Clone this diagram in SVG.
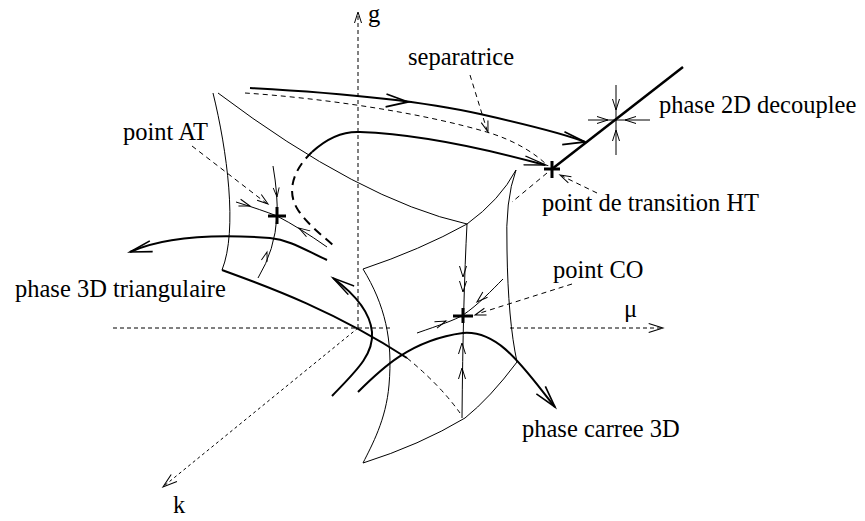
<svg xmlns="http://www.w3.org/2000/svg" xmlns:xlink="http://www.w3.org/1999/xlink" width="865" height="521" viewBox="0 0 865 521">
<style>
  .thin{fill:none;stroke:#000;stroke-width:1}
  .thick{fill:none;stroke:#000;stroke-width:2}
  .axis{fill:none;stroke:#000;stroke-width:1;stroke-dasharray:4 3}
  .axisk{fill:none;stroke:#000;stroke-width:1;stroke-dasharray:3 3}
  .dash{fill:none;stroke:#000;stroke-width:1;stroke-dasharray:5 4}
  .tdash{fill:none;stroke:#000;stroke-width:2;stroke-dasharray:9 6}
  .cross{fill:none;stroke:#000;stroke-width:3}
  text{font-family:"Liberation Serif","Times New Roman",serif;font-size:24.5px;fill:#000}
</style>
<defs>
  <path id="ah" d="M-11,-3.5 L0,0 L-11,3.5" fill="none" stroke="#000"/>
  <path id="AH" d="M-22,-6.5 L0,0 L-22,6.5" fill="none" stroke="#000"/>
</defs>
<rect width="865" height="521" fill="#fff"/>

<g id="axes">
  <path class="axis" d="M358,328 L358,14"/>
  <use href="#ah" transform="translate(358,12) rotate(-90)" stroke-width="1"/>
  <path class="axis" d="M113,328 L392,328 M510,328 L661,328"/>
  <use href="#ah" transform="translate(663,328) scale(1.3)" stroke-width="0.8"/>
  <path class="axisk" d="M358,328 L164,486"/>
  <use href="#ah" transform="translate(163,487) rotate(140.8) scale(1.3)" stroke-width="0.8"/>
</g>

<g id="surface-left">
  <path class="thin" d="M213,93 C227,150 238,230 222,270"/>
  <path class="thin" d="M218,93 Q360,200 467,224"/>
  <path class="thick" d="M222,270 C260,284 330,308 407,358"/>
  <path class="dash" d="M407,358 Q440,385 460,413"/>
</g>

<g id="surface-right">
  <path class="thin" d="M363,269 Q420,250 467,224"/>
  <path class="thin" d="M467,224 Q500,200 516,170"/>
  <path class="thin" d="M516,170 Q505,200 507,250 Q508,320 517,362"/>
  <path class="thin" d="M517,362 Q490,398 465,418 Q420,445 363,463"/>
  <path class="thin" d="M363,269 C385,305 393,340 389,385 C386,420 372,445 363,463"/>
  <path class="dash" d="M547,173 L512,202"/>
</g>

<g id="connectors">
  <path class="thick" d="M250,88 Q400,96 480,114 Q560,132 585,142"/>
  <use href="#AH" transform="translate(408,102) rotate(4)" stroke-width="1.8"/>
  <use href="#AH" transform="translate(585,142) rotate(10)" stroke-width="1.8"/>
  <path class="dash" d="M245,93 C320,98 420,112 490,133 C515,141 535,153 548,166"/>
  <path class="tdash" d="M312,152 C295,168 285,190 298,210 C308,225 322,235 335,247"/>
  <path class="thick" d="M312,152 C325,140 340,131 360,132 C420,134 490,150 545,165"/>
  <use href="#AH" transform="translate(546,165) rotate(12) scale(1,0.7)" stroke-width="1.8"/>
  <path fill="none" stroke="#000" stroke-width="2.5" d="M552,169 L683,67"/>
  <path class="thin" d="M616,85 L616,155 M588,120 L650,120"/>
  <use href="#ah" transform="translate(616,110) rotate(90)" stroke-width="1"/>
  <use href="#ah" transform="translate(616,130) rotate(-90)" stroke-width="1"/>
  <use href="#ah" transform="translate(608,120)" stroke-width="1"/>
  <use href="#ah" transform="translate(625,120) rotate(180)" stroke-width="1"/>
  <path class="thin" d="M273,166 Q278,195 277,216 Q275,250 258,278"/>
  <use href="#ah" transform="translate(277,197) rotate(85) scale(0.85)" stroke-width="1.1"/>
  <use href="#ah" transform="translate(267,252) rotate(-73) scale(0.85)" stroke-width="1.1"/>
  <path class="thin" d="M236,202 Q262,210 277,216 Q300,228 327,247"/>
  <use href="#ah" transform="translate(250,206) rotate(18)" stroke-width="1"/>
  <use href="#ah" transform="translate(299,228) rotate(212)" stroke-width="1"/>
  <path class="thick" d="M327,260 C305,250 290,240 270,238 C230,235 170,234 130,252"/>
  <use href="#AH" transform="translate(130,252) rotate(165) scale(1,0.85)" stroke-width="1.8"/>
  <path class="thick" d="M332,396 C355,372 374,355 372,332 C370,310 352,292 333,278"/>
  <use href="#AH" transform="translate(333,278) rotate(214) scale(1,0.8)" stroke-width="1.8"/>
  <path class="thick" d="M358,392 C380,370 410,340 463,333 C500,330 525,370 555,407"/>
  <use href="#AH" transform="translate(555,407) rotate(50) scale(1,0.9)" stroke-width="1.8"/>
  <path class="thin" d="M467,224 Q463,300 462,418"/>
  <use href="#ah" transform="translate(463,277) rotate(90)" stroke-width="1"/>
  <use href="#ah" transform="translate(463,292) rotate(90)" stroke-width="1"/>
  <use href="#ah" transform="translate(462,343) rotate(-90)" stroke-width="1"/>
  <use href="#ah" transform="translate(462,368) rotate(-90)" stroke-width="1"/>
  <path class="thin" d="M417,333 C440,325 455,320 463,315 C478,305 492,290 503,279"/>
  <use href="#ah" transform="translate(446,321) rotate(-21)" stroke-width="1"/>
  <use href="#ah" transform="translate(477,302) rotate(138)" stroke-width="1"/>
  <path class="dash" d="M470,75 L487,130"/>
  <use href="#ah" transform="translate(488,132) rotate(72)" stroke-width="1"/>
  <path class="dash" d="M597,193 L562,176"/>
  <use href="#ah" transform="translate(560,175) rotate(206)" stroke-width="1"/>
  <path class="dash" d="M572,284 L477,314"/>
  <use href="#ah" transform="translate(475,315) rotate(162)" stroke-width="1"/>
  <path class="dash" d="M192,146 L266,203"/>
  <use href="#ah" transform="translate(268,204) rotate(37)" stroke-width="1"/>
</g>

<g id="points">
  <path class="cross" d="M268,216 L286,216 M277,207 L277,224"/>
  <path class="cross" d="M544,169 L560,169 M552,161 L552,178"/>
  <path class="cross" d="M453,316 L473,316 M463,308 L463,323"/>
</g>

<g id="labels">
  <text x="368" y="22">g</text>
  <text x="624" y="317">μ</text>
  <text x="173" y="513">k</text>
  <text x="408" y="65">separatrice</text>
  <text x="659" y="113">phase 2D decouplee</text>
  <text x="542" y="211">point de transition HT</text>
  <text x="123" y="140">point AT</text>
  <text x="15" y="297">phase 3D triangulaire</text>
  <text x="553" y="278">point CO</text>
  <text x="522" y="437">phase carree 3D</text>
</g>
</svg>
